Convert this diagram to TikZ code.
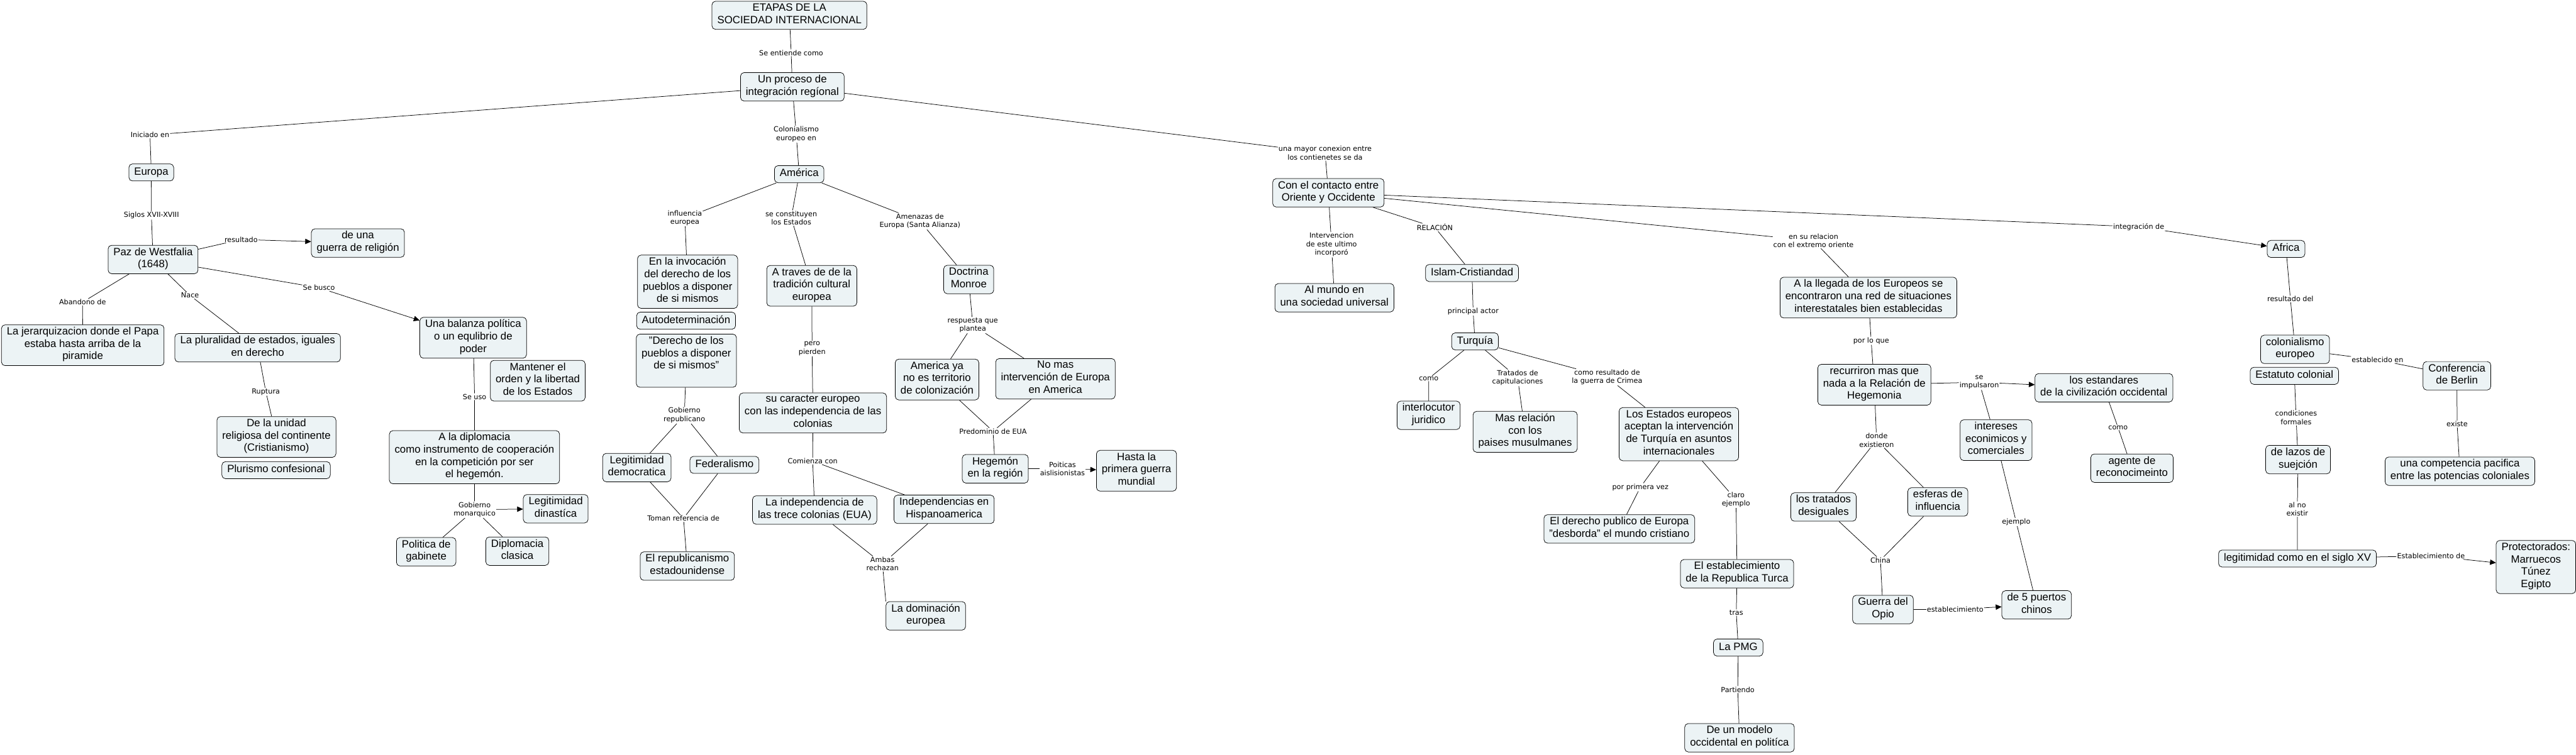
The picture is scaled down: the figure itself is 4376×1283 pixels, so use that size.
\documentclass[tikz,border=0pt]{standalone}
\usepackage{fontspec}
\setmainfont{Liberation Sans}
\newfontfamily\etiqfont{DejaVu Sans}
\usetikzlibrary{arrows.meta}
\definecolor{fondoconcepto}{RGB}{236,243,245}
\tikzset{
    concepto/.style={draw=black, line width=0.8pt, fill=fondoconcepto, rounded corners=6pt,
        align=center, inner xsep=9pt, inner ysep=4pt, font=\fontsize{18}{21}\selectfont,
        execute at begin node=\strut, execute at end node=\strut},
    enlace/.style={align=center, inner sep=1pt, font=\etiqfont\fontsize{12}{14.5}\selectfont},
    linea/.style={draw, line width=0.8pt},
    flecha/.style={linea, -{Triangle[length=10pt,width=9pt]}},
}
\begin{document}
\begin{tikzpicture}[x=1pt, y=-1pt]
    \useasboundingbox (0,0) rectangle (4376,1283);

    % raiz
    \node[concepto] (etapas) at (1341,26) {ETAPAS DE LA\\SOCIEDAD INTERNACIONAL};
    \node[enlace] (lEntiende) at (1344,89.7) {Se entiende como};
    \node[concepto] (proceso) at (1346,147.5) {Un proceso de\\integración regíonal};
    \node[enlace] (lIniciado) at (254.8,229.4) {Iniciado en};
    \node[enlace] (lColonialismo) at (1352.6,228.1) {Colonialismo\\europeo en};
    \node[enlace] (lConexion) at (2251,260) {una mayor conexion entre\\los contienetes se da};
    \draw[linea] (etapas) -- (lEntiende);
    \draw[linea] (lEntiende) -- (proceso);
    \draw[linea] (proceso) -- (lIniciado);
    \draw[linea] (proceso) -- (lColonialismo);
    \draw[linea] (proceso) -- (lConexion);

    % Europa
    \node[concepto] (europa) at (257,293) {Europa};
    \node[enlace] (lSiglos) at (257.2,366.2) {Siglos XVII-XVIII};
    \node[concepto] (westfalia) at (260,441) {Paz de Westfalia\\(1648)};
    \node[enlace] (lResultado) at (409.6,407) {resultado};
    \node[concepto] (guerra) at (608,413) {de una\\guerra de religión};
    \node[enlace] (lBusco) at (541.7,489) {Se busco};
    \node[enlace] (lAbandono) at (140.2,513.5) {Abandono de};
    \node[concepto] (jerarquia) at (140.6,586.7) {La jerarquizacion donde el Papa\\estaba hasta arriba de la\\piramide};
    \node[enlace] (lNace) at (322.8,502.1) {Nace};
    \node[concepto] (pluralidad) at (437.7,591) {La pluralidad de estados, iguales\\en derecho};
    \node[enlace] (lRuptura) at (451.6,665.7) {Ruptura};
    \node[concepto] (unidad) at (469.6,742.6) {De la unidad\\religiosa del continente\\(Cristianismo)};
    \node[concepto] (plurismo) at (469,799) {Plurismo confesional};
    \node[concepto] (balanza) at (803.8,574) {Una balanza política\\o un equlibrio de\\poder};
    \node[concepto] (mantener) at (913.5,647) {Mantener el\\orden y la libertad\\de los Estados};
    \node[enlace] (lUso) at (806.2,674.1) {Se uso};
    \node[concepto] (diplomacia) at (806,777) {A la diplomacia\\como instrumento de cooperación\\en la competición por ser\\el hegemón.};
    \node[enlace] (lMonarquico) at (806.2,866.1) {Gobierno\\monarquico};
    \node[concepto] (dinastica) at (944,864.6) {Legitimidad\\dinastíca};
    \node[concepto] (gabinete) at (724,937.7) {Politica de\\gabinete};
    \node[concepto] (clasica) at (878.8,936.7) {Diplomacia\\clasica};
    \draw[linea] (lIniciado) -- (europa);
    \draw[linea] (europa) -- (lSiglos);
    \draw[linea] (lSiglos) -- (westfalia);
    \draw[linea] (westfalia) -- (lResultado);
    \draw[flecha] (lResultado) -- (guerra);
    \draw[linea] (westfalia) -- (lBusco);
    \draw[flecha] (lBusco) -- (balanza);
    \draw[linea] (westfalia) -- (lAbandono);
    \draw[linea] (lAbandono) -- (jerarquia);
    \draw[linea] (westfalia) -- (lNace);
    \draw[linea] (lNace) -- (pluralidad);
    \draw[linea] (pluralidad) -- (lRuptura);
    \draw[linea] (lRuptura) -- (unidad);
    \draw[linea] (balanza) -- (lUso);
    \draw[linea] (lUso) -- (diplomacia);
    \draw[linea] (diplomacia) -- (lMonarquico);
    \draw[flecha] (lMonarquico) -- (dinastica);
    \draw[linea] (lMonarquico) -- (gabinete);
    \draw[linea] (lMonarquico) -- (clasica);

    % America
    \node[concepto] (america) at (1357.6,296) {América};
    \node[enlace] (lInfluencia) at (1163.4,370.4) {influencia\\europea};
    \node[enlace] (lConstituyen) at (1344.1,370.4) {se constituyen\\los Estados};
    \node[enlace] (lAmenazas) at (1562.8,375.9) {Amenazas de\\Europa (Santa Alianza)};
    \node[concepto] (invocacion) at (1168,478.8) {En la invocación\\del derecho de los\\pueblos a disponer\\de si mismos};
    \node[concepto] (autodet) at (1165.5,545) {Autodeterminación};
    \node[concepto] (derecho) at (1166,613) {"Derecho de los\\pueblos a disponer\\de si mismos"\\\mbox{}};
    \node[concepto] (traves) at (1379,485.7) {A traves de de la\\tradición cultural\\europea};
    \node[enlace] (lPierden) at (1379.5,592.6) {pero\\pierden};
    \node[concepto] (caracter) at (1381,701.8) {su caracter europeo\\con las independencia de las\\colonias};
    \node[enlace] (lRepublicano) at (1162.5,705.8) {Gobierno\\republicano};
    \node[concepto] (democratica) at (1081.8,794.6) {Legitimidad\\democratica};
    \node[concepto] (federalismo) at (1230.6,790) {Federalismo};
    \node[enlace] (lReferencia) at (1161.1,880.9) {Toman referencia de};
    \node[concepto] (republicanismo) at (1167.6,962) {El republicanismo\\estadounidense};
    \node[enlace] (lComienza) at (1380.5,783.6) {Comienza con};
    \node[concepto] (trece) at (1383.9,866.7) {La independencia de\\las trece colonias (EUA)};
    \node[concepto] (hispano) at (1603.8,865.6) {Independencias en\\Hispanoamerica};
    \node[enlace] (lAmbas) at (1499.1,958.2) {Ambas\\rechazan};
    \node[concepto] (dominacion) at (1572.7,1046.6) {La dominación\\europea};
    \node[concepto] (monroe) at (1645.6,475) {Doctrina\\Monroe};
    \node[enlace] (lRespuesta) at (1652.5,552.6) {respuesta que\\plantea};
    \node[concepto] (americaya) at (1591.8,645) {America ya\\no es territorio\\de colonización};
    \node[concepto] (nomas) at (1792.9,643.7) {No mas\\intervención de Europa\\en America};
    \node[enlace] (lPredominio) at (1686.9,732.9) {Predominio de EUA};
    \node[concepto] (hegemon) at (1690.7,796.7) {Hegemón\\en la región};
    \node[enlace] (lAislamiento) at (1804.9,796.7) {Poiticas\\aislisionistas};
    \node[concepto] (hasta) at (1930.6,800) {Hasta la\\primera guerra\\mundial};
    \draw[linea] (lColonialismo) -- (america);
    \draw[linea] (america) -- (lInfluencia);
    \draw[linea] (lInfluencia) -- (invocacion);
    \draw[linea] (america) -- (lConstituyen);
    \draw[linea] (lConstituyen) -- (traves);
    \draw[linea] (america) -- (lAmenazas);
    \draw[linea] (lAmenazas) -- (monroe);
    \draw[linea] (traves) -- (lPierden);
    \draw[linea] (lPierden) -- (caracter);
    \draw[linea] (derecho) -- (lRepublicano);
    \draw[linea] (lRepublicano) -- (democratica);
    \draw[linea] (lRepublicano) -- (federalismo);
    \draw[linea] (democratica) -- (lReferencia);
    \draw[linea] (federalismo) -- (lReferencia);
    \draw[linea] (lReferencia) -- (republicanismo);
    \draw[linea] (caracter) -- (lComienza);
    \draw[linea] (lComienza) -- (trece);
    \draw[linea] (lComienza) -- (hispano);
    \draw[linea] (trece) -- (lAmbas);
    \draw[linea] (hispano) -- (lAmbas);
    \draw[linea] (lAmbas) -- (dominacion.north west);
    \draw[linea] (monroe) -- (lRespuesta);
    \draw[linea] (lRespuesta) -- (americaya);
    \draw[linea] (lRespuesta) -- (nomas);
    \draw[linea] (americaya) -- (lPredominio);
    \draw[linea] (nomas) -- (lPredominio);
    \draw[linea] (lPredominio) -- (hegemon);
    \draw[linea] (hegemon) -- (lAislamiento);
    \draw[flecha] (lAislamiento) -- (hasta);

    % Oriente y Occidente
    \node[concepto] (contacto) at (2256.6,327.7) {Con el contacto entre\\Oriente y Occidente};
    \node[enlace] (lIntervencion) at (2261.9,415.8) {Intervencion\\de este ultimo\\incorporó};
    \node[concepto] (mundo) at (2266.8,506) {Al mundo en\\una sociedad universal};
    \node[enlace] (lRelacion) at (2437.4,386.4) {RELACIÓN};
    \node[concepto] (islam) at (2500.6,464) {Islam-Cristiandad};
    \node[enlace] (lActor) at (2502.5,529.5) {principal actor};
    \node[concepto] (turquia) at (2505.6,580.2) {Turquía};
    \node[enlace] (lComo) at (2427,643.2) {como};
    \node[concepto] (interlocutor) at (2426.8,705.8) {interlocutor\\juridico};
    \node[enlace] (lTratados) at (2578,642) {Tratados de\\capitulaciones};
    \node[concepto] (musulmanes) at (2590.8,733.8) {Mas relación\\con los\\paises musulmanes};
    \node[enlace] (lCrimea) at (2730,641) {como resultado de\\la guerra de Crimea};
    \node[concepto] (estados) at (2852,737.8) {Los Estados europeos\\aceptan la intervención\\de Turquía en asuntos\\internacionales};
    \node[enlace] (lPrimera) at (2786.6,828) {por primera vez};
    \node[concepto] (publico) at (2750.8,898.8) {El derecho publico de Europa\\"desborda" el mundo cristiano};
    \node[enlace] (lClaro) at (2949,849.2) {claro\\ejemplo};
    \node[concepto] (republica) at (2950.8,975) {El establecimiento\\de la Republica Turca};
    \node[enlace] (lTras) at (2949.5,1041.1) {tras};
    \node[concepto] (pmg) at (2952.8,1100.5) {La PMG};
    \node[enlace] (lPartiendo) at (2952,1171.8) {Partiendo};
    \node[concepto] (modelo) at (2955,1253.8) {De un modelo\\occidental en politíca};
    \draw[linea] (lConexion) -- (contacto);
    \draw[linea] (contacto) -- (lIntervencion);
    \draw[linea] (lIntervencion) -- (mundo);
    \draw[linea] (contacto) -- (lRelacion);
    \draw[linea] (lRelacion) -- (islam);
    \draw[linea] (islam) -- (lActor);
    \draw[linea] (lActor) -- (turquia);
    \draw[linea] (turquia) -- (lComo);
    \draw[linea] (lComo) -- (interlocutor);
    \draw[linea] (turquia) -- (lTratados);
    \draw[linea] (lTratados) -- (musulmanes);
    \draw[linea] (turquia) -- (lCrimea);
    \draw[linea] (lCrimea) -- (estados);
    \draw[linea] (estados) -- (lPrimera);
    \draw[linea] (lPrimera) -- (publico);
    \draw[linea] (estados) -- (lClaro);
    \draw[linea] (lClaro) -- (republica);
    \draw[linea] (republica) -- (lTras);
    \draw[linea] (lTras) -- (pmg);
    \draw[linea] (pmg) -- (lPartiendo);
    \draw[linea] (lPartiendo) -- (modelo);

    % Extremo oriente
    \node[enlace] (lOriente) at (3080.6,409.1) {en su relacion\\con el extremo oriente};
    \node[concepto] (llegada) at (3174,505.7) {A la llegada de los Europeos se\\encontraron una red de situaciones\\interestatales bien establecidas};
    \node[enlace] (lPorLoQue) at (3178.6,579.2) {por lo que};
    \node[concepto] (hegemonia) at (3184,653.8) {recurriron mas que\\nada a la Relación de\\Hegemonia};
    \node[enlace] (lImpulsaron) at (3362.2,649.6) {se\\impulsaron};
    \node[concepto] (estandares) at (3574,659) {los estandares\\de la civilización occidental};
    \node[enlace] (lComoAgente) at (3598,726.5) {como};
    \node[concepto] (agente) at (3621.7,795.7) {agente de\\reconocimeinto};
    \node[concepto] (intereses) at (3390.8,748) {intereses\\econimicos y\\comerciales};
    \node[enlace] (lEjemplo) at (3425,887.2) {ejemplo};
    \node[enlace] (lExistieron) at (3187.8,748.1) {donde\\existieron};
    \node[concepto] (desiguales) at (3097.7,861.6) {los tratados\\desiguales};
    \node[concepto] (esferas) at (3291.9,853) {esferas de\\influencia};
    \node[enlace] (lChina) at (3194.4,951.9) {China};
    \node[concepto] (opio) at (3198.7,1035.8) {Guerra del\\Opio};
    \node[enlace] (lEstablecimiento) at (3321.4,1035.6) {establecimiento};
    \node[concepto] (puertos) at (3459.7,1028) {de 5 puertos\\chinos};
    \draw[linea] (contacto) -- (lOriente);
    \draw[linea] (lOriente) -- (llegada);
    \draw[linea] (llegada) -- (lPorLoQue);
    \draw[linea] (lPorLoQue) -- (hegemonia);
    \draw[linea] (hegemonia) -- (lImpulsaron);
    \draw[flecha] (lImpulsaron) -- (estandares);
    \draw[linea] (lImpulsaron) -- (intereses);
    \draw[linea] (estandares) -- (lComoAgente);
    \draw[linea] (lComoAgente) -- (agente);
    \draw[linea] (intereses) -- (lEjemplo);
    \draw[linea] (lEjemplo) -- (puertos);
    \draw[linea] (hegemonia) -- (lExistieron);
    \draw[linea] (lExistieron) -- (desiguales);
    \draw[linea] (lExistieron) -- (esferas);
    \draw[linea] (desiguales) -- (lChina);
    \draw[linea] (esferas) -- (lChina);
    \draw[linea] (lChina) -- (opio);
    \draw[linea] (opio) -- (lEstablecimiento);
    \draw[flecha] (lEstablecimiento) -- (puertos);

    % Africa
    \node[enlace] (lIntegracion) at (3633.1,385.5) {integración de};
    \node[concepto] (africa) at (3883.4,423) {Africa};
    \node[enlace] (lResultadoDel) at (3890.8,508) {resultado del};
    \node[concepto] (colonialismo) at (3898.7,593.7) {colonialismo\\europeo};
    \node[concepto] (estatuto) at (3897.6,638.7) {Estatuto colonial};
    \node[enlace] (lEstablecido) at (4038.8,611.6) {establecido en};
    \node[concepto] (berlin) at (4173.7,638.6) {Conferencia\\de Berlin};
    \node[enlace] (lExiste) at (4174,720.6) {existe};
    \node[concepto] (competencia) at (4178.8,800.8) {una competencia pacifica\\entre las potencias coloniales};
    \node[enlace] (lCondiciones) at (3900.5,710) {condiciones\\formales};
    \node[concepto] (lazos) at (3903.8,781) {de lazos de\\suejción};
    \node[enlace] (lNoExistir) at (3902.5,865.2) {al no\\existir};
    \node[concepto] (siglo) at (3902.8,949.2) {legitimidad como en el siglo XV};
    \node[enlace] (lProtectorado) at (4129.6,944.7) {Establecimiento de};
    \node[concepto] (protectorados) at (4307.9,963.6) {Protectorados:\\Marruecos\\Túnez\\Egipto};
    \draw[linea] (contacto) -- (lIntegracion);
    \draw[flecha] (lIntegracion) -- (africa);
    \draw[linea] (africa) -- (lResultadoDel);
    \draw[linea] (lResultadoDel) -- (colonialismo);
    \draw[linea] (colonialismo) -- (lEstablecido);
    \draw[linea] (lEstablecido) -- (berlin);
    \draw[linea] (berlin) -- (lExiste);
    \draw[linea] (lExiste) -- (competencia);
    \draw[linea] (estatuto) -- (lCondiciones);
    \draw[linea] (lCondiciones) -- (lazos);
    \draw[linea] (lazos) -- (lNoExistir);
    \draw[linea] (lNoExistir) -- (siglo);
    \draw[linea] (siglo) -- (lProtectorado);
    \draw[flecha] (lProtectorado) -- (protectorados);
\end{tikzpicture}
\end{document}
